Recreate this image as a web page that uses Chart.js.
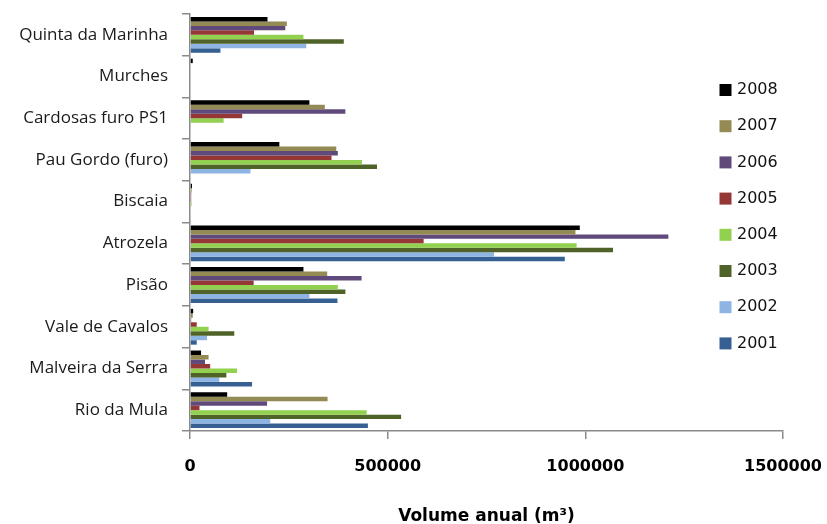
<!DOCTYPE html>
<html>
<head>
<meta charset="utf-8">
<script src="https://cdn.jsdelivr.net/npm/chart.js@4"></script>
<style>
  html, body { margin: 0; padding: 0; background: #fff; }
  #wrap { width: 827px; height: 524px; }
</style>
</head>
<body>
<div id="wrap"><canvas id="volumeChart"></canvas></div>
<script>
// Categories (top to bottom)
const locais = ['Quinta da Marinha', 'Murches', 'Cardosas furo PS1', 'Pau Gordo (furo)', 'Biscaia',
                'Atrozela', 'Pisão', 'Vale de Cavalos', 'Malveira da Serra', 'Rio da Mula'];

// Annual volume per year (m3)
const anos = ['2008', '2007', '2006', '2005', '2004', '2003', '2002', '2001'];
const v2008 = [196000, 7000, 302000, 226000, 5000, 986000, 287000, 8000, 28000, 94000];
const v2007 = [245000, 0, 341000, 370000, 4000, 975000, 347000, 7000, 47000, 348000];
const v2006 = [241000, 0, 393000, 374000, 3000, 1210000, 434000, 3000, 38000, 195000];
const v2005 = [162000, 0, 132000, 358000, 3000, 591000, 161000, 17000, 51000, 24000];
const v2004 = [287000, 0, 85000, 435000, 4000, 978000, 374000, 47000, 119000, 447000];
const v2003 = [389000, 0, 0, 473000, 0, 1070000, 393000, 112000, 92000, 534000];
const v2002 = [294000, 0, 0, 153000, 0, 769000, 302000, 43000, 74000, 203000];
const v2001 = [77000, 0, 0, 0, 0, 948000, 373000, 17000, 157000, 450000];

// X axis ticks
const xTicks = [0, 500000, 1000000, 1500000];

const series = [v2008, v2007, v2006, v2005, v2004, v2003, v2002, v2001];
const cores = ['#000000', '#948A54', '#604A7B', '#953735', '#92D050', '#4F6228', '#8DB4E2', '#376092'];

// Legend drawn on the right, over the empty part of the plot (like Excel)
const sideLegend = {
    id: 'sideLegend',
    afterDraw(chart) {
        const ctx = chart.ctx;
        ctx.save();
        ctx.font = '16px "DejaVu Sans"';
        ctx.textBaseline = 'middle';
        ctx.textAlign = 'left';
        chart.data.datasets.forEach((ds, i) => {
            const y = 90 + i * 36.2;
            ctx.fillStyle = ds.backgroundColor;
            ctx.fillRect(719.5, y - 6, 12, 12);
            ctx.fillStyle = '#111';
            ctx.fillText(ds.label, 737, y);
        });
        ctx.restore();
    }
};

// no automatic padding for overflowing tick labels
function noPad(scale) {
    scale.paddingLeft = 0;
    scale.paddingRight = 0;
    scale.paddingTop = 0;
    scale.paddingBottom = 0;
}

const ctx = document.getElementById('volumeChart').getContext('2d');
new Chart(ctx, {
    type: 'bar',
    data: {
        labels: locais,
        datasets: anos.map((ano, i) => ({
            label: ano,
            data: series[i],
            backgroundColor: cores[i],
            borderWidth: 0,
            categoryPercentage: 0.86,
            barPercentage: 1.0
        }))
    },
    options: {
        indexAxis: 'y',
        responsive: true,
        maintainAspectRatio: false,
        animation: false,
        layout: {
            padding: { top: 14, right: 44, left: 0, bottom: 0 }
        },
        plugins: {
            legend: { display: false },
            tooltip: { enabled: false }
        },
        scales: {
            x: {
                min: 0,
                max: 1500000,
                afterBuildTicks: (scale) => {
                    scale.ticks = xTicks.map(v => ({ value: v }));
                },
                afterFit: (scale) => { scale.height = 93; noPad(scale); },
                grid: {
                    drawOnChartArea: false,
                    drawTicks: true,
                    tickLength: 8,
                    color: '#8a8a8a',
                    lineWidth: 1.5
                },
                border: { color: '#8a8a8a', width: 1.5 },
                ticks: {
                    padding: 18,
                    color: '#000',
                    font: { family: 'DejaVu Sans', size: 16, weight: 'bold' },
                    callback: (v) => String(v)
                },
                title: {
                    display: true,
                    text: 'Volume anual (m³)',
                    color: '#000',
                    padding: { top: 0, bottom: -3 },
                    font: { family: 'DejaVu Sans', size: 17, weight: 'bold' }
                }
            },
            y: {
                afterFit: (scale) => { scale.width = 190; noPad(scale); },
                grid: {
                    offset: true,
                    drawOnChartArea: false,
                    drawTicks: true,
                    tickLength: 8,
                    color: '#8a8a8a',
                    lineWidth: 1.5
                },
                border: { color: '#8a8a8a', width: 1.5 },
                ticks: {
                    padding: 14,
                    color: '#1a1a1a',
                    font: { family: 'Open Sans', size: 17 }
                }
            }
        }
    },
    plugins: [sideLegend]
});
</script>
</body>
</html>
